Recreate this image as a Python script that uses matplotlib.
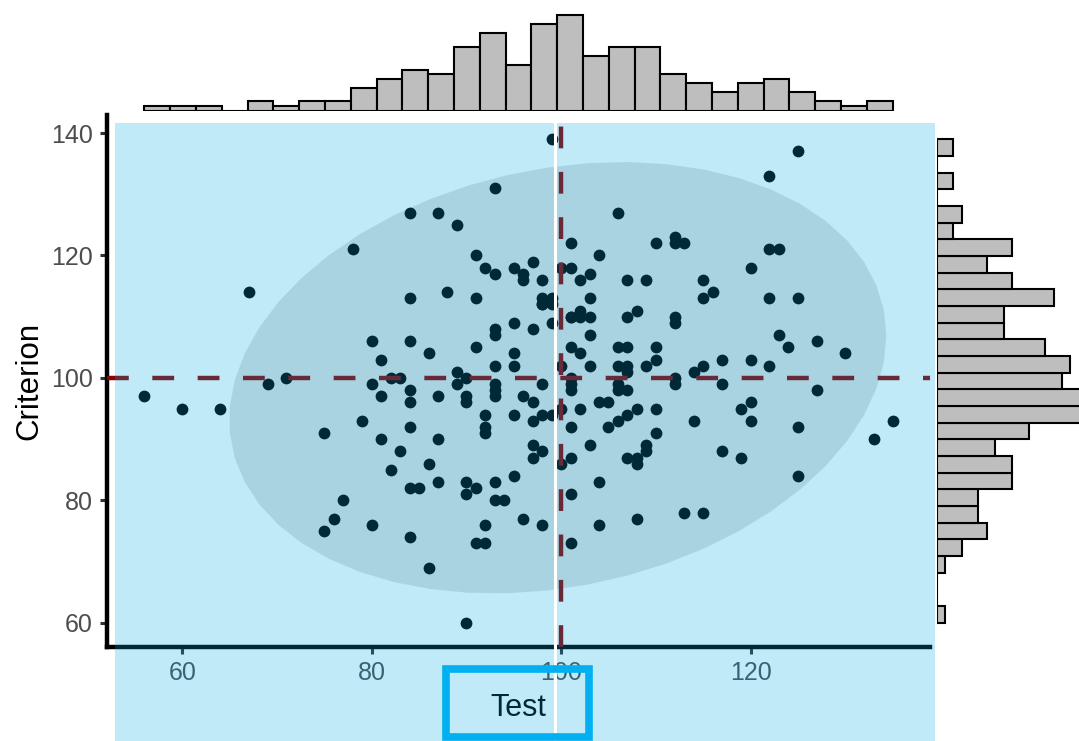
import numpy as np
import matplotlib
matplotlib.use("Agg")
from matplotlib import pyplot as plt
from matplotlib.patches import Rectangle, Polygon
from matplotlib.lines import Line2D

plt.rcParams['font.family'] = ['Liberation Sans', 'DejaVu Sans']

# test score and criterion score for each of the 200 people
test = [56, 60, 64, 67, 69, 71, 99, 93, 84, 87,
        89, 78, 91, 92, 93, 95, 96, 96, 97, 98,
        98, 98, 99, 99, 84, 88, 91, 95, 97, 93,
        93, 80, 84, 81, 86, 91, 95, 95, 93, 89,
        90, 89, 82, 83, 80, 84, 81, 87, 98, 100,
        100, 125, 122, 106, 101, 110, 112, 112, 113, 122,
        123, 104, 120, 101, 102, 103, 107, 109, 115, 116,
        115, 122, 125, 103, 101, 102, 103, 107, 108, 112,
        112, 103, 101, 102, 103, 106, 107, 107, 107, 106,
        107, 106, 109, 110, 110, 112, 112, 114, 115, 117,
        117, 120, 122, 123, 124, 127, 130, 127, 101, 101,
        101, 84, 90, 93, 93, 93, 96, 97, 102, 99,
        101, 103, 101, 100, 101, 101, 92, 95, 97, 92,
        92, 97, 98, 97, 95, 93, 90, 91, 90, 93,
        94, 96, 98, 92, 91, 92, 86, 90, 79, 75,
        81, 84, 87, 83, 86, 82, 84, 85, 87, 77,
        76, 75, 80, 84, 104, 105, 106, 107, 108, 110,
        105, 110, 109, 107, 108, 108, 104, 104, 108, 113,
        115, 114, 117, 119, 119, 120, 120, 125, 125, 133,
        135, 98, 99, 98, 101, 102, 100, 90, 106, 109]
criterion = [97, 95, 95, 114, 99, 100, 139, 131, 127, 127,
             125, 121, 120, 118, 117, 118, 117, 116, 119, 116,
             113, 112, 112, 109, 113, 114, 113, 109, 108, 108,
             107, 106, 106, 103, 104, 105, 104, 102, 102, 101,
             100, 99, 100, 100, 99, 98, 97, 97, 99, 102,
             118, 137, 133, 127, 122, 122, 123, 122, 122, 121,
             121, 120, 118, 118, 116, 117, 116, 116, 116, 114,
             113, 113, 113, 113, 110, 111, 110, 110, 111, 110,
             109, 107, 105, 104, 102, 105, 105, 102, 101, 99,
             98, 98, 102, 105, 103, 100, 99, 101, 102, 103,
             99, 103, 102, 107, 105, 106, 104, 98, 100, 99,
             98, 96, 96, 99, 98, 97, 97, 96, 95, 94,
             92, 89, 87, 86, 81, 73, 94, 94, 93, 92,
             91, 89, 88, 87, 84, 83, 83, 82, 81, 80,
             80, 77, 76, 76, 73, 73, 69, 60, 93, 91,
             90, 92, 90, 88, 86, 85, 82, 82, 83, 80,
             77, 75, 76, 74, 96, 96, 93, 94, 95, 95,
             92, 91, 89, 87, 87, 86, 83, 76, 77, 78,
             78, 93, 88, 87, 95, 96, 93, 92, 84, 90,
             93, 112, 113, 94, 110, 110, 95, 97, 102, 88]

ref_line = 100
x_ticks = [60, 80, 100, 120]
y_ticks = [60, 80, 100, 120, 140]
n_bins = 29

x = np.array(test, dtype=float)
y = np.array(criterion, dtype=float)

W, H = 1079, 741
fig = plt.figure(figsize=(W / 100, H / 100), dpi=100)

def px_axes(left, top, right, bottom):
    return fig.add_axes([left / W, 1 - bottom / H, (right - left) / W, (bottom - top) / H])

# limits padded by 5% like ggplot
def padded(v):
    span = v.max() - v.min()
    return v.min() - 0.05 * span, v.max() + 0.05 * span

xlim = padded(x)
ylim = padded(y)

ax = px_axes(107, 115, 930, 647)
ax.set_xlim(xlim)
ax.set_ylim(ylim)

# 95% normal data ellipse
xy = np.column_stack([x, y])
center = xy.mean(axis=0)
L = np.linalg.cholesky(np.cov(xy.T))
radius = np.sqrt(2 * 3.041)
t = np.linspace(0, 2 * np.pi, 52)
ring = center + radius * np.column_stack([np.cos(t), np.sin(t)]) @ L.T
ax.add_patch(Polygon(ring, closed=True, facecolor='#7f7f7f', alpha=0.23,
                     edgecolor='none', zorder=1))

ax.scatter(x, y, s=72, color='black', linewidths=0, zorder=3)
ax.axvline(ref_line, color='darkred', lw=3.2, dashes=(4.9, 5.3), zorder=4)
ax.axhline(ref_line, color='darkred', lw=3.2, dashes=(4.9, 5.3), zorder=4)

for side in ['top', 'right']:
    ax.spines[side].set_visible(False)
for side in ['left', 'bottom']:
    ax.spines[side].set_linewidth(3.2)
    ax.spines[side].set_color('black')
ax.set_facecolor('white')
ax.set_xticks(x_ticks)
ax.set_yticks(y_ticks)
ax.tick_params(direction='out', length=5, width=2.2, color='#333333',
               labelsize=18, labelcolor='#4d4d4d', pad=5)
ax.set_xlabel('Test', fontsize=22, labelpad=6)
ax.set_ylabel('Criterion', fontsize=22.5, labelpad=5)

# marginal histograms
hist_style = dict(facecolor='#bebebe', edgecolor='black', linewidth=1.5)

ax_top = px_axes(107, 10.5, 930, 110.5)
ax_top.hist(x, bins=n_bins, range=(x.min(), x.max()), **hist_style)
ax_top.set_xlim(xlim)
ax_top.set_ylim(0, 22)
ax_top.axis('off')

ax_side = px_axes(936.7, 115, 936.7 + 20 * 8.35, 647)
ax_side.hist(y, bins=n_bins, range=(y.min(), y.max()), orientation='horizontal',
             **hist_style)
ax_side.set_ylim(ylim)
ax_side.set_xlim(0, 20)
ax_side.axis('off')

# highlight over the panel and the x title
fig.add_artist(Rectangle((115 / W, 0), 820 / W, (H - 123) / H,
                         transform=fig.transFigure, facecolor=(0, 170 / 255, 227 / 255),
                         alpha=0.247, edgecolor='none', zorder=10))
fig.add_artist(Line2D([554.7 / W, 554.7 / W], [0, (H - 123) / H],
                      transform=fig.transFigure, color='white', lw=2.2, zorder=11))
fig.add_artist(Rectangle((445.5 / W, 4 / H), 143.5 / W, 68 / H,
                         transform=fig.transFigure, facecolor='none',
                         edgecolor='#00b0f0', lw=5.5, zorder=12))

fig.savefig('out.png', dpi=100)
